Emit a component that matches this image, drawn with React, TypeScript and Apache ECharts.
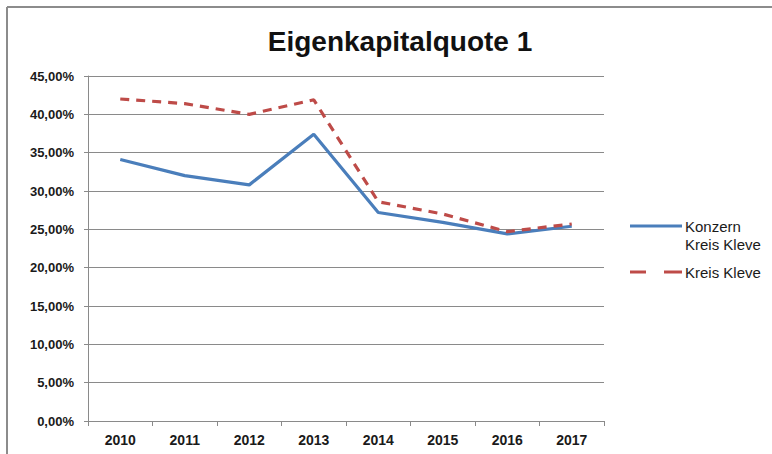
import React, { useEffect, useRef } from "react";
import * as echarts from "echarts";

const title = "Eigenkapitalquote 1";
const years = ["2010", "2011", "2012", "2013", "2014", "2015", "2016", "2017"];
const seriesNames = ["Konzern\nKreis Kleve", "Kreis Kleve"];
const konzern = [34.1, 32.0, 30.8, 37.4, 27.2, 25.9, 24.4, 25.4];
const kreis = [42.0, 41.4, 40.0, 41.9, 28.6, 27.0, 24.7, 25.7];
const colors = ["#4a7ebb", "#be4b48"];

export default function App() {
  const ref = useRef<HTMLDivElement>(null);
  useEffect(() => {
    if (!ref.current) return;
    const chart = echarts.init(ref.current, undefined, { renderer: "svg" });
    const font = "'Liberation Sans', Arial, sans-serif";
    const gridColor = "#8a8a8a";
    chart.setOption({
      animation: false,
      backgroundColor: "#ffffff",
      title: {
        text: title,
        left: 395,
        textAlign: "center",
        top: 22,
        textStyle: { fontFamily: font, fontSize: 28, fontWeight: "bold", color: "#111" },
      },
      grid: { left: 88, right: 168, top: 76, bottom: 33, containLabel: false },
      xAxis: {
        type: "category",
        data: years,
        boundaryGap: true,
        axisLine: { lineStyle: { color: gridColor, width: 1 } },
        axisTick: { show: true, length: 5, lineStyle: { color: gridColor } },
        axisLabel: { margin: 12, fontFamily: font, fontSize: 14, fontWeight: "bold", color: "#1a1a1a" },
      },
      yAxis: {
        type: "value",
        min: 0,
        max: 45,
        interval: 5,
        axisLine: { show: true, lineStyle: { color: gridColor, width: 1 } },
        axisTick: { show: true, length: 4, lineStyle: { color: gridColor } },
        splitLine: { show: true, lineStyle: { color: gridColor, width: 1 } },
        axisLabel: {
          margin: 14,
          fontFamily: font,
          fontSize: 13,
          fontWeight: "bold",
          color: "#1a1a1a",
          formatter: (v: number) => v.toFixed(2).replace(".", ",") + "%",
        },
      },
      series: [
        {
          name: seriesNames[0],
          type: "line",
          data: konzern,
          symbol: "none",
          lineStyle: { color: colors[0], width: 3.2 },
          itemStyle: { color: colors[0] },
        },
        {
          name: seriesNames[1],
          type: "line",
          data: kreis,
          symbol: "none",
          lineStyle: { color: colors[1], width: 3.2, type: [9, 7] },
          itemStyle: { color: colors[1] },
        },
      ],
      graphic: [
        { type: "line", shape: { x1: 7, y1: 7, x2: 772, y2: 7 }, style: { stroke: "#8c8c8c", lineWidth: 2 } },
        { type: "line", shape: { x1: 7, y1: 7, x2: 7, y2: 454 }, style: { stroke: "#8c8c8c", lineWidth: 2 } },
        { type: "line", shape: { x1: 630, y1: 226, x2: 682, y2: 226 }, style: { stroke: colors[0], lineWidth: 3 } },
        {
          type: "text",
          x: 685,
          y: 217,
          style: { text: seriesNames[0], font: `15px ${font}`, fill: "#1a1a1a", lineHeight: 18 },
        },
        { type: "line", shape: { x1: 630, y1: 272, x2: 646, y2: 272 }, style: { stroke: colors[1], lineWidth: 3 } },
        { type: "line", shape: { x1: 664, y1: 272, x2: 682, y2: 272 }, style: { stroke: colors[1], lineWidth: 3 } },
        {
          type: "text",
          x: 685,
          y: 263,
          style: { text: seriesNames[1], font: `15px ${font}`, fill: "#1a1a1a", lineHeight: 18 },
        },
      ],
    });
    return () => chart.dispose();
  }, []);
  return <div ref={ref} style={{ width: 772, height: 454, position: "absolute", left: 0, top: 0 }} />;
}
